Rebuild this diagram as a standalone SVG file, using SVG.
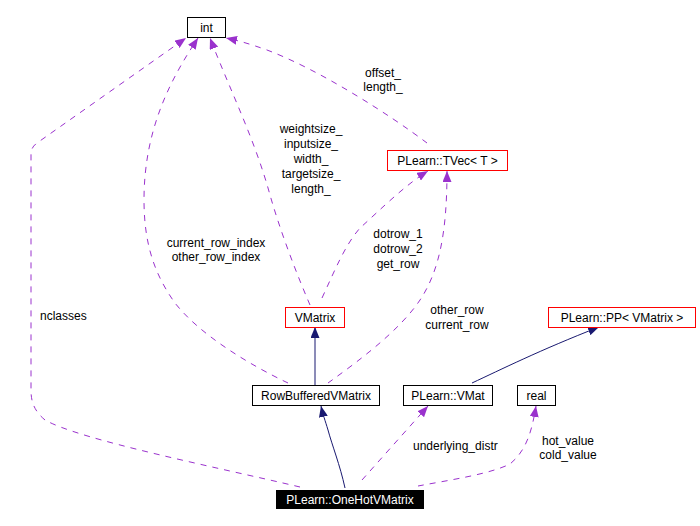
<svg xmlns="http://www.w3.org/2000/svg" width="700" height="526" viewBox="0 0 700 526">
<style>
text{font-family:"Liberation Sans",Arial,sans-serif;font-size:12px;fill:#000}
.n{fill:#fff;stroke:#000;stroke-width:1}
.r{fill:#fff;stroke:#ff0000;stroke-width:1}
.c{text-anchor:middle}
.u{fill:none;stroke:#9a32cd;stroke-width:1;stroke-dasharray:6,6}
.i{fill:none;stroke:#191970;stroke-width:1}
</style>
<defs>
<marker id="ap" markerUnits="userSpaceOnUse" markerWidth="11" markerHeight="9" refX="11" refY="4.5" orient="auto"><path d="M0,0 L11,4.5 L0,9 z" fill="#9a32cd"/></marker>
<marker id="an" markerUnits="userSpaceOnUse" markerWidth="11" markerHeight="9" refX="11" refY="4.5" orient="auto"><path d="M0,0 L11,4.5 L0,9 z" fill="#191970"/></marker>
</defs>
<rect width="700" height="526" fill="#fff"/>
<g id="edges">
<path class="u" marker-end="url(#ap)" d="M300,487 C220,468 80,440 45,420 C33,410 31,400 31,390 L31,155 C31,149 33,146 37,143 L186,38"/>
<path class="u" marker-end="url(#ap)" d="M288,383 C250,365 200,335 175,303 C155,275 144,245 144,200 C144,130 170,80 198,38"/>
<path class="u" marker-end="url(#ap)" d="M310,305 C295,270 280,230 270,195 C255,140 230,90 210,38"/>
<path class="u" marker-end="url(#ap)" d="M427,143 C390,115 320,70 267,50 C250,44 240,41 226,38"/>
<path class="u" marker-end="url(#ap)" d="M322,298 C335,270 345,245 360,228 C380,210 405,185 428,171"/>
<path class="u" marker-end="url(#ap)" d="M328,383 C360,360 400,330 420,300 C440,270 447,230 447,171"/>
<path class="i" marker-end="url(#an)" d="M315,385 L315,327"/>
<path class="i" marker-end="url(#an)" d="M472,383 C500,370 540,350 599,327"/>
<path class="i" marker-end="url(#an)" d="M345,488 C340,465 332,445 328,430 C325,420 323,415 321,406"/>
<path class="u" marker-end="url(#ap)" d="M362,480 L428,406"/>
<path class="u" marker-end="url(#ap)" d="M418,486 C450,480 490,474 510,464 C527,450 532,430 536,406"/>
<text x="40" y="320">nclasses</text>
<text class="c" x="216" y="247">current_row_index</text>
<text class="c" x="216" y="261">other_row_index</text>
<text class="c" x="311" y="133">weightsize_</text>
<text class="c" x="311" y="148">inputsize_</text>
<text class="c" x="311" y="163">width_</text>
<text class="c" x="311" y="178">targetsize_</text>
<text class="c" x="311" y="193">length_</text>
<text class="c" x="383" y="77">offset_</text>
<text class="c" x="383" y="91">length_</text>
<text class="c" x="398" y="238">dotrow_1</text>
<text class="c" x="398" y="253">dotrow_2</text>
<text class="c" x="398" y="268">get_row</text>
<text class="c" x="457" y="314">other_row</text>
<text class="c" x="457" y="329">current_row</text>
<text x="413" y="450">underlying_distr</text>
<text class="c" x="568" y="445">hot_value</text>
<text class="c" x="568" y="459">cold_value</text>
</g>
<g id="int"><rect class="n" x="187.5" y="17.5" width="38" height="20"/><text class="c" x="206.5" y="32">int</text></g>
<g id="tvec"><rect class="r" x="387.5" y="150.5" width="120" height="20"/><text class="c" x="447.5" y="165">PLearn::TVec&lt; T &gt;</text></g>
<g id="vmatrix"><rect class="r" x="285.5" y="307.5" width="59" height="20"/><text class="c" x="315" y="322">VMatrix</text></g>
<g id="pp"><rect class="r" x="548.5" y="307.5" width="147" height="20"/><text class="c" x="622" y="322">PLearn::PP&lt; VMatrix &gt;</text></g>
<g id="rowbuffered"><rect class="n" x="252.5" y="385.5" width="127" height="20"/><text class="c" x="316" y="400">RowBufferedVMatrix</text></g>
<g id="vmat"><rect class="n" x="403.5" y="385.5" width="89" height="20"/><text class="c" x="448" y="400">PLearn::VMat</text></g>
<g id="real"><rect class="n" x="517.5" y="385.5" width="38" height="20"/><text class="c" x="536.5" y="400">real</text></g>
<g id="onehot"><rect x="276" y="490" width="148" height="19" fill="#000"/><text class="c" x="350" y="504" style="fill:#fff">PLearn::OneHotVMatrix</text></g>
</svg>
